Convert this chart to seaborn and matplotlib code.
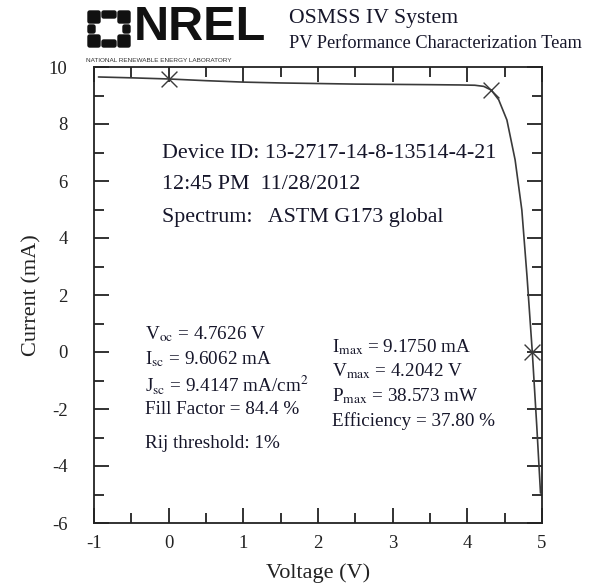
import numpy as np
import pandas as pd
import matplotlib
matplotlib.use("Agg")
import matplotlib.pyplot as plt
import seaborn as sns
from matplotlib.patches import FancyBboxPatch
from matplotlib.ticker import MultipleLocator

# ---- data ----
voltage = [-0.94, -0.5, 0.0, 0.5, 1.0, 1.5, 2.0, 2.5, 3.0, 3.5, 3.9, 4.1, 4.22, 4.32, 4.42, 4.53, 4.64, 4.73, 4.80, 4.87, 4.93, 4.98]
current = [9.65, 9.62, 9.58, 9.52, 9.47, 9.44, 9.42, 9.40, 9.39, 9.38, 9.37, 9.36, 9.32, 9.19, 8.85, 8.14, 6.74, 4.98, 2.63, 0.0, -2.6, -4.95]
mark_v = [0.0, 4.32, 4.87]
mark_i = [9.58, 9.19, 0.0]

x_ticks = [-1, 0, 1, 2, 3, 4, 5]
y_ticks = [-6, -4, -2, 0, 2, 4, 6, 8, 10]

info_lines = ["Device ID: 13-2717-14-8-13514-4-21", "12:45 PM  11/28/2012", "Spectrum:   ASTM G173 global"]
left_stats = [r"V$_{\rm oc}$ = 4.7626 V", r"I$_{\rm sc}$ = 9.6062 mA",
              r"J$_{\rm sc}$ = 9.4147 mA/cm$^{2}$", "Fill Factor = 84.4 %"]
right_stats = [r"I$_{\rm max}$ = 9.1750 mA", r"V$_{\rm max}$ = 4.2042 V",
               r"P$_{\rm max}$ = 38.573 mW", "Efficiency = 37.80 %"]

sns.set_style("ticks")
plt.rcParams["font.family"] = ["Liberation Serif", "DejaVu Serif"]
plt.rcParams["mathtext.fontset"] = "stix"
plt.rcParams["axes.unicode_minus"] = False

W, H = 592, 586
fig = plt.figure(figsize=(W / 100, H / 100), dpi=100)
ax = fig.add_axes([94 / W, 1 - 523 / H, (542 - 94) / W, (523 - 67) / H])

df = pd.DataFrame({"V": voltage, "I": current})
sns.lineplot(data=df, x="V", y="I", sort=False, ax=ax, color="#3a3a3a", lw=1.2)
mk = pd.DataFrame({"V": mark_v, "I": mark_i})
sns.scatterplot(data=mk, x="V", y="I", ax=ax, marker="x", s=130, color="#3a3a3a",
                linewidth=1.0, zorder=5)

ax.set_xlim(-1, 5)
ax.set_ylim(-6, 10)
ax.set_xticks(x_ticks)
ax.set_yticks(y_ticks)
ax.xaxis.set_minor_locator(MultipleLocator(0.5))
ax.yaxis.set_minor_locator(MultipleLocator(1))
ax.tick_params(which="both", direction="in", top=True, right=True, width=1.3, color="#222222",
               labelsize=13.5, labelcolor="#222222")
ax.tick_params(axis="x", pad=9)
ax.tick_params(axis="y", pad=19)
ax.tick_params(which="major", length=11)
ax.tick_params(which="minor", length=7)
for s in ax.spines.values():
    s.set_visible(True)
    s.set_linewidth(1.3)
    s.set_color("#222222")
ax.set_xlabel("Voltage (V)", fontsize=16, color="#222222", labelpad=8)
ax.set_ylabel("Current (mA)", fontsize=16, color="#222222", labelpad=5)

tc = "#16162a"
for k, t in enumerate(info_lines):
    fig.text(162 / W, 1 - (153 + 32 * k) / H, t, fontsize=15.8, color=tc, va="center")
ly = [334, 359, 384, 410]
for k, t in enumerate(left_stats):
    fig.text(145 / W, 1 - ly[k] / H, t, fontsize=13.8, color=tc, va="center")
fig.text(145 / W, 1 - 443 / H, "Rij threshold: 1%", fontsize=13.8, color=tc, va="center")
ry = [347, 371, 396, 421]
for k, t in enumerate(right_stats):
    fig.text(332 / W, 1 - ry[k] / H, t, fontsize=13.8, color=tc, va="center")

# header
fig.text(289 / W, 1 - 19 / H, "OSMSS IV System", fontsize=15.7, color=tc, va="center")
fig.text(289 / W, 1 - 43 / H, "PV Performance Characterization Team", fontsize=13.2, color=tc, va="center")
fig.text(134 / W, 1 - 28 / H, "NREL", fontsize=35, fontweight="bold", family="Liberation Sans",
         color="#111111", va="center", ha="left")
fig.text(86 / W, 1 - 60 / H, "NATIONAL RENEWABLE ENERGY LABORATORY", fontsize=4.6,
         family="Liberation Sans", color="#333333", va="center")

# logo icon: ring of blocks (corner blocks + side bars), in pixel coords
def px_rect(x, y, w, h):
    fig.patches.append(FancyBboxPatch((x / W, 1 - (y + h) / H), w / W, h / H,
                                      boxstyle="round,pad=0,rounding_size=0.003",
                                      transform=fig.transFigure, color="#111111"))

L, T, SW, SH = 88, 11, 42, 36
c = 12
px_rect(L, T, c, c); px_rect(L + SW - c, T, c, c)
px_rect(L, T + SH - c, c, c); px_rect(L + SW - c, T + SH - c, c, c)
px_rect(L + c + 2, T, SW - 2 * c - 4, 7); px_rect(L + c + 2, T + SH - 7, SW - 2 * c - 4, 7)
px_rect(L, T + c + 2, 7, SH - 2 * c - 4); px_rect(L + SW - 7, T + c + 2, 7, SH - 2 * c - 4)

fig.savefig("out.png", dpi=100, facecolor="white")
